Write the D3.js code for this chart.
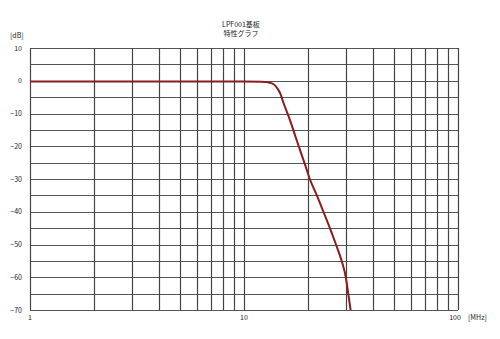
<!DOCTYPE html>
<html>
<head>
<meta charset="utf-8">
<script src="https://cdn.jsdelivr.net/npm/d3@7"></script>
<style>
  body { margin: 0; background: #fff; }
  text { font-family: "Noto Sans CJK JP", "DejaVu Sans", sans-serif; fill: #222; }
</style>
</head>
<body>
<div id="chart"></div>
<script>
// frequency response readings (MHz, dB)
var freq = [1, 2, 5, 10, 12, 13, 13.7, 14.3, 14.8, 15.3, 16.4, 17.6, 19.3, 20.3, 21.9, 23.5, 25.2, 26.9, 28.6, 29.9, 30.7, 31.5];
var gain = [-0.2, -0.2, -0.2, -0.2, -0.3, -0.5, -1, -2.3, -4, -6.8, -12, -18, -25.7, -30, -35, -40, -45, -50, -55, -60, -65, -70];

var yTicks = [10, 0, -10, -20, -30, -40, -50, -60, -70];
var yGrid = [10, 5, 0, -5, -10, -15, -20, -25, -30, -35, -40, -45, -50, -55, -60, -65, -70];
var xGrid = [1, 2, 3, 4, 5, 6, 7, 8, 9, 10, 20, 30, 40, 50, 60, 70, 80, 90, 100];
var xTicks = [1, 10, 100];

var svgWidth = 500;
var svgHeight = 339;

var margin = { top: 48, right: 42, bottom: 29, left: 30 };
var width = svgWidth - margin.left - margin.right;
var height = svgHeight - margin.top - margin.bottom;

var svg = d3.select("#chart")
  .append("svg")
  .attr("width", svgWidth)
  .attr("height", svgHeight);

var chartGroup = svg.append("g")
  .attr("transform", `translate(${margin.left}, ${margin.top})`);

var x = d3.scaleLog().domain([1, 100]).range([0, width]);
var y = d3.scaleLinear().domain([-70, 10]).range([height, 0]);

// grid
chartGroup.selectAll(".hgrid")
  .data(yGrid)
  .enter()
  .append("line")
  .attr("x1", 0)
  .attr("x2", width)
  .attr("y1", d => Math.round(y(d)) + 0.5)
  .attr("y2", d => Math.round(y(d)) + 0.5)
  .attr("stroke", "#555")
  .attr("stroke-width", 1);

chartGroup.selectAll(".vgrid")
  .data(xGrid)
  .enter()
  .append("line")
  .attr("x1", d => Math.round(x(d)) + 0.5)
  .attr("x2", d => Math.round(x(d)) + 0.5)
  .attr("y1", 0)
  .attr("y2", height)
  .attr("stroke", "#444")
  .attr("stroke-width", 1.2);

// axes labels
chartGroup.selectAll(".ylab")
  .data(yTicks)
  .enter()
  .append("text")
  .attr("x", -8)
  .attr("y", d => y(d) + 2.5)
  .attr("text-anchor", "end")
  .style("font-size", "7px")
  .text(d => d < 0 ? "\u2212" + Math.abs(d) : d);

chartGroup.selectAll(".xlab")
  .data(xTicks)
  .enter()
  .append("text")
  .attr("x", (d, i) => x(d) + (i === 2 ? -3 : 0))
  .attr("y", height + 10)
  .attr("text-anchor", "middle")
  .style("font-size", "7px")
  .text(d => d);

svg.append("text")
  .attr("x", 10)
  .attr("y", 38)
  .style("font-size", "7px")
  .text("[dB]");

svg.append("text")
  .attr("x", 468)
  .attr("y", 320)
  .style("font-size", "7px")
  .text("[MHz]");

// title
svg.append("text")
  .attr("x", 241)
  .attr("y", 27)
  .attr("text-anchor", "middle")
  .style("font-size", "7px")
  .text("LPF001基板");

svg.append("text")
  .attr("x", 241)
  .attr("y", 36)
  .attr("text-anchor", "middle")
  .style("font-size", "7px")
  .text("特性グラフ");

// response curve
svg.append("clipPath")
  .attr("id", "plotclip")
  .append("rect")
  .attr("width", width)
  .attr("height", height + 1);

var line = d3.line()
  .x(d => x(d[0]))
  .y(d => y(d[1]))
  .curve(d3.curveMonotoneX);

chartGroup.append("path")
  .datum(freq.map((f, i) => [f, gain[i]]))
  .attr("clip-path", "url(#plotclip)")
  .attr("d", line)
  .attr("fill", "none")
  .attr("stroke", "#8a1c1c")
  .attr("stroke-width", 2);
</script>
</body>
</html>
